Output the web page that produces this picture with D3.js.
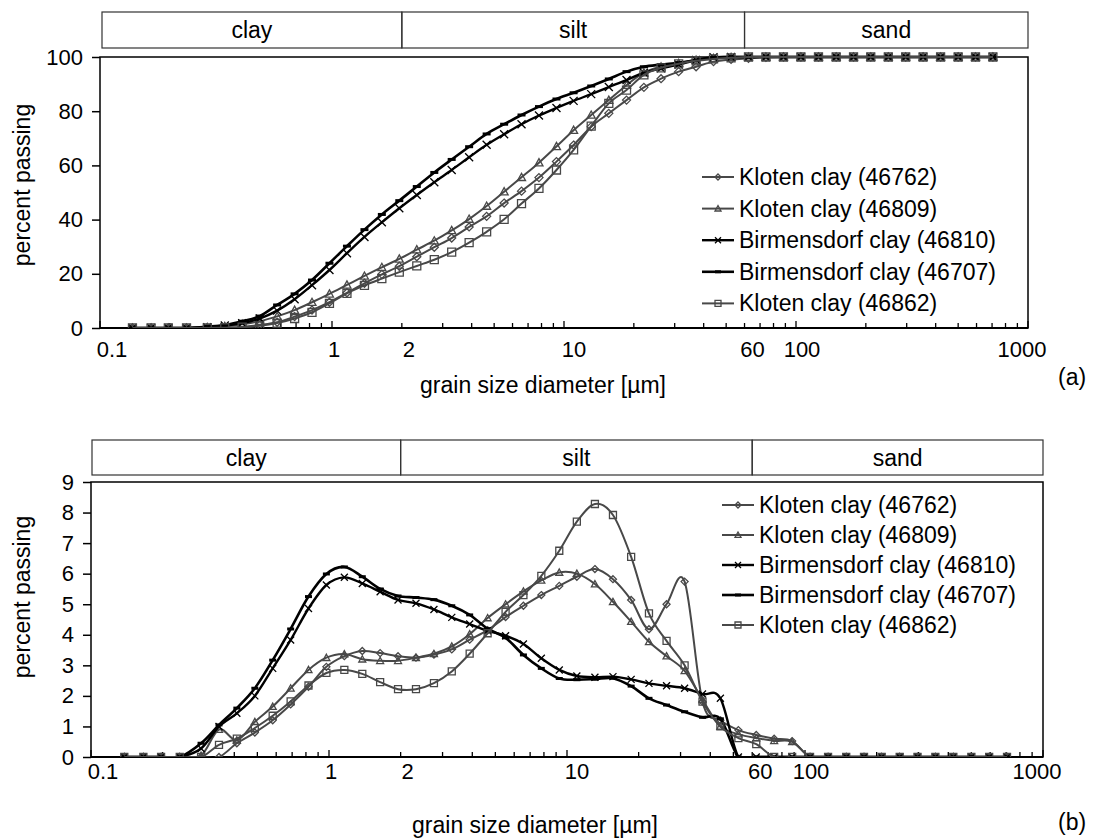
<!DOCTYPE html>
<html>
<head>
<meta charset="utf-8">
<script src="https://cdn.jsdelivr.net/npm/d3@7"></script>
<style>
  body { margin: 0; background: #fff; }
  svg { display: block; font-family: "Liberation Sans", Arial, sans-serif; }
</style>
</head>
<body>
<svg id="chart" width="1098" height="839"></svg>
<script>
// grain size classes [um]
var sizes = [0.138, 0.166, 0.197, 0.236, 0.29, 0.345, 0.41, 0.488, 0.58, 0.69, 0.82, 0.975,
  1.16, 1.38, 1.64, 1.95, 2.32, 2.76, 3.28, 3.9, 4.64, 5.52, 6.56, 7.8, 9.28, 11.0, 13.1, 15.6,
  18.6, 22.1, 26.2, 31.2, 37.1, 44.1, 52.5, 62.4, 74.2, 88.3, 105, 125, 149, 177, 210, 250,
  297, 353, 420, 500, 594, 706];

var names = ["Kloten clay (46762)", "Kloten clay (46809)", "Birmensdorf clay (46810)",
  "Birmensdorf clay (46707)", "Kloten clay (46862)"];

// (a) cumulative percent passing
var cum46762 = [0, 0, 0, 0, 0, 0.1, 0.4, 1.1, 2.1, 4.2, 6.6, 9.5, 13, 16.5, 19.8, 22.8, 26.3, 29.8,
  33.2, 37.3, 41.2, 46.1, 50.5, 55.5, 61.4, 67.5, 74.3, 79.2, 84.1, 88.8, 92, 94.6, 96.4, 98.3,
  99.1, 99.5, 99.9, 100, 100, 100, 100, 100, 100, 100, 100, 100, 100, 100, 100, 100];
var cum46809 = [0, 0, 0, 0, 0.2, 0.6, 1.4, 2.5, 4.3, 6.6, 9.5, 12.6, 15.9, 19.2, 22.4, 25.5, 28.9,
  32.2, 36, 40.2, 45, 50.3, 55.6, 61, 67, 73, 78.6, 84.1, 89.6, 94.2, 96.4, 97.7, 98.9, 99.5, 99.9,
  100, 100, 100, 100, 100, 100, 100, 100, 100, 100, 100, 100, 100, 100, 100];
var cum46810 = [0, 0, 0, 0, 0.3, 0.9, 1.8, 3.5, 6.4, 10.6, 15.8, 21.4, 27.6, 33.6, 39, 44.2, 49.1,
  53.8, 58.3, 63, 67.6, 71.5, 75.2, 78.4, 81.2, 83.8, 86.3, 88.9, 91.5, 94.2, 95.8, 97.2, 98.9, 99.9,
  100, 100, 100, 100, 100, 100, 100, 100, 100, 100, 100, 100, 100, 100, 100, 100];
var cum46707 = [0, 0, 0, 0, 0.5, 1.1, 2.5, 4.4, 8.5, 12.6, 17.7, 23.9, 30.2, 36.3, 41.9, 47, 52.2,
  57.4, 62.2, 66.9, 71.6, 75.2, 78.6, 81.7, 84.5, 86.8, 89.3, 91.9, 94.6, 96.4, 97.2, 97.9, 98.8, 99.8,
  100, 100, 100, 100, 100, 100, 100, 100, 100, 100, 100, 100, 100, 100, 100, 100];
var cum46862 = [0, 0, 0, 0, 0, 0.1, 0.3, 0.8, 1.8, 3.5, 5.8, 9.1, 12.8, 15.7, 18.2, 20.6, 22.9, 25.2,
  28, 31.5, 35.5, 40.1, 45.9, 51.5, 58.3, 65.7, 74.5, 82.9, 87.8, 93.4, 96, 97.5, 98.6, 99.3, 99.7,
  100, 100, 100, 100, 100, 100, 100, 100, 100, 100, 100, 100, 100, 100, 100];

// (b) percent per size class
var freq46762 = [0, 0, 0, 0, 0, 0, 0.45, 0.8, 1.2, 1.72, 2.3, 2.95, 3.3, 3.47, 3.4, 3.3, 3.25, 3.35,
  3.52, 3.84, 4.15, 4.58, 4.95, 5.3, 5.6, 5.9, 6.15, 5.82, 5.14, 4.18, 5.0, 5.74, 1.81, 1.2, 0.88,
  0.72, 0.6, 0.52, 0, 0, 0, 0, 0, 0, 0, 0, 0, 0, 0, 0];
var freq46809 = [0, 0, 0, 0, 0.05, 0.9, 0.55, 1.15, 1.65, 2.25, 2.85, 3.25, 3.37, 3.2, 3.15, 3.15,
  3.25, 3.38, 3.62, 4.02, 4.55, 5.0, 5.42, 5.78, 6.04, 6.0, 5.66, 5.08, 4.43, 3.77, 3.3, 2.82, 1.87,
  1.0, 0.75, 0.62, 0.53, 0.5, 0, 0, 0, 0, 0, 0, 0, 0, 0, 0, 0, 0];
var freq46810 = [0, 0, 0, 0, 0.28, 1.0, 1.43, 2.0, 2.9, 3.83, 4.86, 5.63, 5.88, 5.68, 5.41, 5.14,
  5.03, 4.83, 4.57, 4.35, 4.13, 3.97, 3.7, 3.23, 2.85, 2.65, 2.61, 2.63, 2.54, 2.41, 2.33, 2.25, 2.06,
  1.92, 0, 0, 0, 0, 0, 0, 0, 0, 0, 0, 0, 0, 0, 0, 0, 0];
var freq46707 = [0, 0, 0, 0, 0.45, 1.05, 1.6, 2.25, 3.17, 4.19, 5.25, 5.99, 6.22, 5.9, 5.5, 5.27,
  5.22, 5.15, 4.95, 4.65, 4.2, 3.9, 3.34, 2.9, 2.57, 2.53, 2.55, 2.58, 2.32, 1.92, 1.7, 1.48, 1.3,
  1.25, 0, 0, 0, 0, 0, 0, 0, 0, 0, 0, 0, 0, 0, 0, 0, 0];
var freq46862 = [0, 0, 0, 0, 0, 0.4, 0.6, 0.95, 1.35, 1.82, 2.34, 2.75, 2.85, 2.72, 2.45, 2.22, 2.22,
  2.42, 2.8, 3.38, 4.05, 4.75, 5.3, 5.93, 6.75, 7.7, 8.28, 7.92, 6.55, 4.7, 3.8, 3.0, 1.81, 1.0, 0.62,
  0.42, 0, 0, 0, 0, 0, 0, 0, 0, 0, 0, 0, 0, 0, 0];

var xTickLabels = [0.1, 1, 2, 10, 60, 100, 1000];
var zoneNames = ["clay", "silt", "sand"];
var zoneLimits = [0.1, 2, 60, 1000];
var yTicksA = [0, 20, 40, 60, 80, 100];
var yTicksB = [0, 1, 2, 3, 4, 5, 6, 7, 8, 9];

var styles = [
  { color: "#484848", marker: "diamond", width: 2 },
  { color: "#484848", marker: "triangle", width: 2 },
  { color: "#000", marker: "x", width: 2.4 },
  { color: "#000", marker: "dash", width: 2.6 },
  { color: "#484848", marker: "square", width: 2 }
];

var svg = d3.select("#chart");

function markerPath(type, r) {
  if (type == "diamond") return "M0," + (-r) + "L" + r + ",0L0," + r + "L" + (-r) + ",0Z";
  if (type == "triangle") return "M0," + (-r) + "L" + r + "," + (r * 0.8) + "L" + (-r) + "," + (r * 0.8) + "Z";
  if (type == "square") return "M" + (-r) + "," + (-r) + "h" + (2 * r) + "v" + (2 * r) + "h" + (-2 * r) + "Z";
  if (type == "x") return "M" + (-r) + "," + (-r) + "L" + r + "," + r + "M" + r + "," + (-r) + "L" + (-r) + "," + r;
  return "M" + (-r) + ",0L" + r + ",0";
}

function drawMarker(g, st, cx, cy, r) {
  g.append("path")
    .attr("transform", "translate(" + cx + "," + cy + ")")
    .attr("d", markerPath(st.marker, r))
    .attr("fill", "none")
    .attr("stroke", st.color)
    .attr("stroke-width", st.marker == "dash" ? 3 : 1.3);
}

// label nudges, the original labels sit slightly right of their ticks
var labelShift = { 0.1: 12, 1: 2, 2: 7, 10: 10, 60: 8, 100: 6, 1000: -6 };

function panel(o) {
  var g = svg.append("g");
  var x = d3.scaleLog().domain([0.1, 1000]).range([o.left, o.right]);
  var y = d3.scaleLinear().domain([0, o.yMax]).range([o.bottom, o.top]);

  // clay / silt / sand boxes
  zoneNames.forEach(function(z, i) {
    var x0 = x(zoneLimits[i]), x1 = x(zoneLimits[i + 1]);
    if (i == 0) x0 = o.boxLeft;
    g.append("rect").attr("x", x0).attr("y", o.boxTop)
      .attr("width", x1 - x0).attr("height", o.boxBottom - o.boxTop)
      .attr("fill", "none").attr("stroke", "#333").attr("stroke-width", 1.2);
    g.append("text").attr("x", (x0 + x1) / 2).attr("y", (o.boxTop + o.boxBottom) / 2)
      .attr("dy", "0.35em").attr("text-anchor", "middle")
      .style("font-size", "23px").text(z);
  });

  // y axis
  var yAxis = d3.axisLeft(y).tickValues(o.yTicks).tickSize(8).tickPadding(9)
    .tickFormat(d3.format("d"));
  var ya = g.append("g").attr("transform", "translate(" + o.left + ",0)").call(yAxis);
  ya.select(".domain").remove();
  ya.selectAll("line").attr("stroke", "#000").attr("stroke-width", 1.5);
  ya.selectAll("text").style("font-size", "22px").attr("fill", "#000")
    .style("font-family", "Liberation Sans, Arial, sans-serif");

  // plot frame
  g.append("rect").attr("x", o.left).attr("y", o.top)
    .attr("width", o.right - o.left).attr("height", o.bottom - o.top)
    .attr("fill", "none").attr("stroke", "#000").attr("stroke-width", 1.5);

  // log ticks pointing into the plot
  x.ticks().forEach(function(t) {
    var major = Math.abs(Math.log10(t) - Math.round(Math.log10(t))) < 1e-6;
    g.append("line").attr("x1", x(t)).attr("x2", x(t))
      .attr("y1", o.bottom).attr("y2", o.bottom - (major ? 7 : 5))
      .attr("stroke", "#000").attr("stroke-width", 1.3);
  });
  g.append("line").attr("x1", o.left).attr("x2", o.right)
    .attr("y1", o.bottom).attr("y2", o.bottom)
    .attr("stroke", "#000").attr("stroke-width", 2);

  xTickLabels.forEach(function(t) {
    g.append("text").attr("x", x(t) + labelShift[t]).attr("y", o.bottom + o.labelOffset)
      .attr("dy", "0.35em").attr("text-anchor", "middle")
      .style("font-size", "22px").text(t);
  });

  // series
  var clipId = "clip" + o.id;
  g.append("clipPath").attr("id", clipId).append("rect")
    .attr("x", o.left - 6).attr("y", o.top - 6)
    .attr("width", o.right - o.left + 12).attr("height", o.bottom - o.top + 6);
  var plot = g.append("g").attr("clip-path", "url(#" + clipId + ")");

  var line = d3.line()
    .x(function(d) { return x(d[0]); })
    .y(function(d) { return y(d[1]); })
    .curve(d3.curveCatmullRom.alpha(0));

  o.series.forEach(function(vals, k) {
    var st = styles[k];
    var pts = sizes.map(function(s, i) { return [s, vals[i]]; });
    plot.append("path").datum(pts).attr("d", line)
      .attr("fill", "none").attr("stroke", st.color).attr("stroke-width", st.width)
      .attr("stroke-linejoin", "round");
    pts.forEach(function(p) {
      drawMarker(plot, st, x(p[0]), y(p[1]), o.markerR);
    });
  });

  // legend
  names.forEach(function(n, k) {
    var st = styles[k];
    var ly = o.legendTop + k * o.legendStep;
    g.append("line").attr("x1", o.legendX).attr("x2", o.legendX + 32)
      .attr("y1", ly).attr("y2", ly)
      .attr("stroke", st.color).attr("stroke-width", st.width);
    drawMarker(g, st, o.legendX + 16, ly, 3);
    g.append("text").attr("x", o.legendX + 37).attr("y", ly).attr("dy", "0.35em")
      .style("font-size", "23px").text(n);
  });

  // axis titles
  g.append("text")
    .attr("transform", "translate(" + 30 + "," + o.yTitleY + ") rotate(-90)")
    .attr("text-anchor", "middle").style("font-size", "23px").text("percent passing");
  g.append("text").attr("x", o.xTitleX).attr("y", o.xTitleY).attr("dy", "0.35em")
    .attr("text-anchor", "middle").style("font-size", "23px").text("grain size diameter [\u00b5m]");
  g.append("text").attr("x", 1058).attr("y", o.tagY).attr("dy", "0.35em")
    .style("font-size", "23px").text(o.tag);
}

panel({
  id: "a", left: 100, right: 1028, top: 57, bottom: 328, yMax: 100, yTicks: yTicksA,
  boxLeft: 102, boxTop: 12, boxBottom: 48, labelOffset: 21, markerR: 4,
  series: [cum46762, cum46809, cum46810, cum46707, cum46862],
  legendX: 702, legendTop: 177, legendStep: 31.6,
  yTitleY: 185, xTitleX: 543, xTitleY: 385, tag: "(a)", tagY: 377
});

panel({
  id: "b", left: 91, right: 1043, top: 482, bottom: 757, yMax: 9, yTicks: yTicksB,
  boxLeft: 92, boxTop: 440, boxBottom: 475, labelOffset: 14, markerR: 3.5,
  series: [freq46762, freq46809, freq46810, freq46707, freq46862],
  legendX: 722, legendTop: 505, legendStep: 30,
  yTitleY: 597, xTitleX: 535, xTitleY: 825, tag: "(b)", tagY: 822
});
</script>
</body>
</html>
